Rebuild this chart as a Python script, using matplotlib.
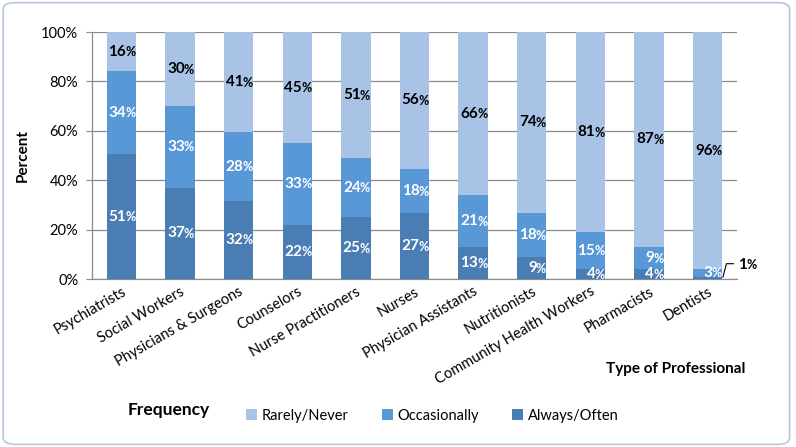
import matplotlib
matplotlib.use("Agg")
import matplotlib.pyplot as plt
import numpy as np
from matplotlib.patches import FancyBboxPatch, Patch
import matplotlib.transforms as mtransforms

categories = ["Psychiatrists", "Social Workers", "Physicians & Surgeons", "Counselors",
              "Nurse Practitioners", "Nurses", "Physician Assistants", "Nutritionists",
              "Community Health Workers", "Pharmacists", "Dentists"]
always_often = [51, 37, 32, 22, 25, 27, 13, 9, 4, 4, 1]
occasionally = [34, 33, 28, 33, 24, 18, 21, 18, 15, 9, 3]
rarely_never = [16, 30, 41, 45, 51, 56, 66, 74, 81, 87, 96]
series_names = ["Rarely/Never", "Occasionally", "Always/Often"]
yticks = [0, 20, 40, 60, 80, 100]

c_light = "#A8C3E6"
c_mid = "#5898D6"
c_dark = "#4A7DB4"

plt.rcParams['font.family'] = ['Lato', 'DejaVu Sans']

fig = plt.figure(figsize=(7.96, 4.47), dpi=100)
border = FancyBboxPatch((0.004, 0.006), 0.988, 0.988, boxstyle="round,pad=0,rounding_size=0.015",
                        transform=fig.transFigure, facecolor="white", edgecolor="#B7C7D9",
                        linewidth=1.2, zorder=-10)
fig.patches.append(border)

ax = fig.add_axes([0.1156, 0.3758, 0.8103, 0.5526])

a = np.array(always_often, float)
o = np.array(occasionally, float)
r = np.array(rarely_never, float)
tot = a + o + r
an, on, rn = a / tot * 100, o / tot * 100, r / tot * 100
x = np.arange(len(categories))
w = 0.5

ax.bar(x, an, w, color=c_dark, zorder=3)
ax.bar(x, on, w, bottom=an, color=c_mid, zorder=3)
ax.bar(x, rn, w, bottom=an + on, color=c_light, zorder=3)

NUM_FS = 11
PCT_FS = 9

def pct_label(xc, yc, val, color, ha_shift=3.5):
    t = ax.text(xc, yc, str(val), ha='right', va='center', fontsize=NUM_FS,
                fontweight='bold', color=color, zorder=5,
                transform=ax.transData + mtransforms.ScaledTranslation(ha_shift/72, 0, fig.dpi_scale_trans))
    ax.annotate("%", xy=(1, 0.5), xycoords=t, ha='left', va='center', fontsize=PCT_FS,
                fontweight='bold', color=color, zorder=5, annotation_clip=False,
                xytext=(-0.6, -0.4), textcoords='offset points')

for i in range(len(categories)):
    if always_often[i] >= 3:
        pct_label(x[i], an[i] / 2, always_often[i], "white")
    pct_label(x[i], an[i] + on[i] / 2, occasionally[i], "white")
    pct_label(x[i], an[i] + on[i] + rn[i] / 2, rarely_never[i], "black")

# Dentists tiny value with leader line
last = len(categories) - 1
ax.plot([last + 0.26, last + 0.32, last + 0.44], [0.8, 6.2, 6.2], color="black", lw=0.8,
        zorder=6, clip_on=False)
t = ax.text(last + 0.52, 5.8, str(always_often[last]), ha='left', va='center', fontsize=NUM_FS,
            fontweight='bold', color='black')
ax.annotate("%", xy=(1, 0.5), xycoords=t, ha='left', va='center', fontsize=PCT_FS,
            fontweight='bold', color='black', annotation_clip=False,
            xytext=(-0.6, -0.4), textcoords='offset points')

ax.set_xlim(-0.5, len(categories) - 0.5)
ax.set_ylim(0, 100)
ax.set_yticks(yticks)
ax.set_yticklabels([f"{v}%" for v in yticks], fontsize=10.5)
ax.yaxis.grid(True, color="#8C8C8C", lw=0.9, zorder=0)
ax.set_axisbelow(True)
ax.tick_params(axis='y', length=4, color="#8C8C8C", pad=6)
ax.tick_params(axis='x', length=0, pad=4)
for s in ['top', 'right']:
    ax.spines[s].set_visible(False)
for s in ['left', 'bottom']:
    ax.spines[s].set_color("#8C8C8C")
    ax.spines[s].set_linewidth(0.9)

ax.set_xticks(x)
ax.set_xticklabels(categories, rotation=30, ha='right', rotation_mode='anchor', fontsize=10.5)
ax.set_ylabel("Percent", fontsize=11, fontweight='bold', labelpad=8)

fig.text(0.936, 0.174, "Type of Professional", ha='right', va='center', fontsize=11,
         fontweight='bold')
fig.text(0.16, 0.082, "Frequency", ha='left', va='center', fontsize=12.5, fontweight='bold')

handles = [Patch(facecolor=c_light), Patch(facecolor=c_mid), Patch(facecolor=c_dark)]
leg = fig.legend(handles, series_names, loc='center left', bbox_to_anchor=(0.293, 0.07),
                 ncol=3, frameon=False, fontsize=10.5, handlelength=0.75, handleheight=0.75,
                 handletextpad=0.3, columnspacing=2.3)

fig.savefig("out.png", dpi=100)
